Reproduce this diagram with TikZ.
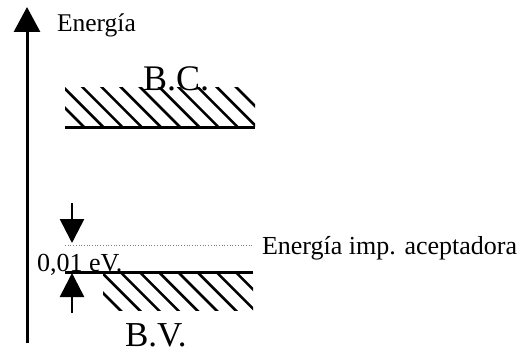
\documentclass[tikz,border=0pt]{standalone}
\usepackage{fontspec}
\setmainfont{Liberation Serif}
\usetikzlibrary{arrows.meta}
\tikzset{
  lbl/.style={anchor=base west, inner sep=0pt, outer sep=0pt},
  bandline/.style={line width=3pt},
  hatch/.style={line width=2.6pt},
  axisline/.style={line width=3pt, -{Triangle[width=26pt,length=25pt]}},
  gaparrow/.style={line width=2.6pt, -{Triangle[width=24pt,length=24pt]}},
}
\begin{document}
\begin{tikzpicture}[x=1pt,y=-1pt]
\useasboundingbox (0,0) rectangle (525,353);
% axis
\coordinate (axbot) at (27,343);
\coordinate (axtop) at (27,7);
\draw[axisline] (axbot) -- (axtop);
\node[lbl, font=\fontsize{25.5}{30}\selectfont] (energia) at (57,32) {Energía};
% conduction band
\begin{scope}
  \clip (65,88) rectangle (255,127);
  \foreach \k in {0,...,10} {
    \pgfmathsetmacro\cc{-43+19.2*\k}
    \draw[hatch] (\cc+70,70) -- (\cc+140,140);
  }
\end{scope}
\coordinate (cbl) at (65,127);
\coordinate (cbr) at (255,127);
\draw[bandline] (cbl) -- (cbr);
\node[lbl, font=\fontsize{36}{40}\selectfont] (bc) at (143,91) {B.C.};
% valence band
\begin{scope}
  \clip (103,272) rectangle (253,310);
  \foreach \k in {0,...,9} {
    \pgfmathsetmacro\cc{-190+19.2*\k}
    \draw[hatch] (\cc+260,260) -- (\cc+320,320);
  }
\end{scope}
\coordinate (vbl) at (65,272);
\coordinate (vbr) at (253,272);
\draw[bandline] (vbl) -- (vbr);
\node[lbl, font=\fontsize{35}{40}\selectfont] (bv) at (125,346) {B.V.};
% acceptor level
\coordinate (accl) at (65,245);
\coordinate (accr) at (253,245);
\draw[dotted, line width=0.7pt, gray] (accl) -- (accr);
\node[lbl, font=\fontsize{26}{30}\selectfont] (acc) at (262,254) {Energía imp. aceptadora};
% gap arrows
\coordinate (dtop) at (72,203);
\coordinate (dtip) at (72,243);
\coordinate (ubot) at (72,313);
\coordinate (utip) at (72,273);
\draw[gaparrow] (dtop) -- (dtip);
\draw[gaparrow] (ubot) -- (utip);
\node[lbl, font=\fontsize{26}{30}\selectfont] (gap) at (37,271) {0,01 eV.};
\end{tikzpicture}
\end{document}
